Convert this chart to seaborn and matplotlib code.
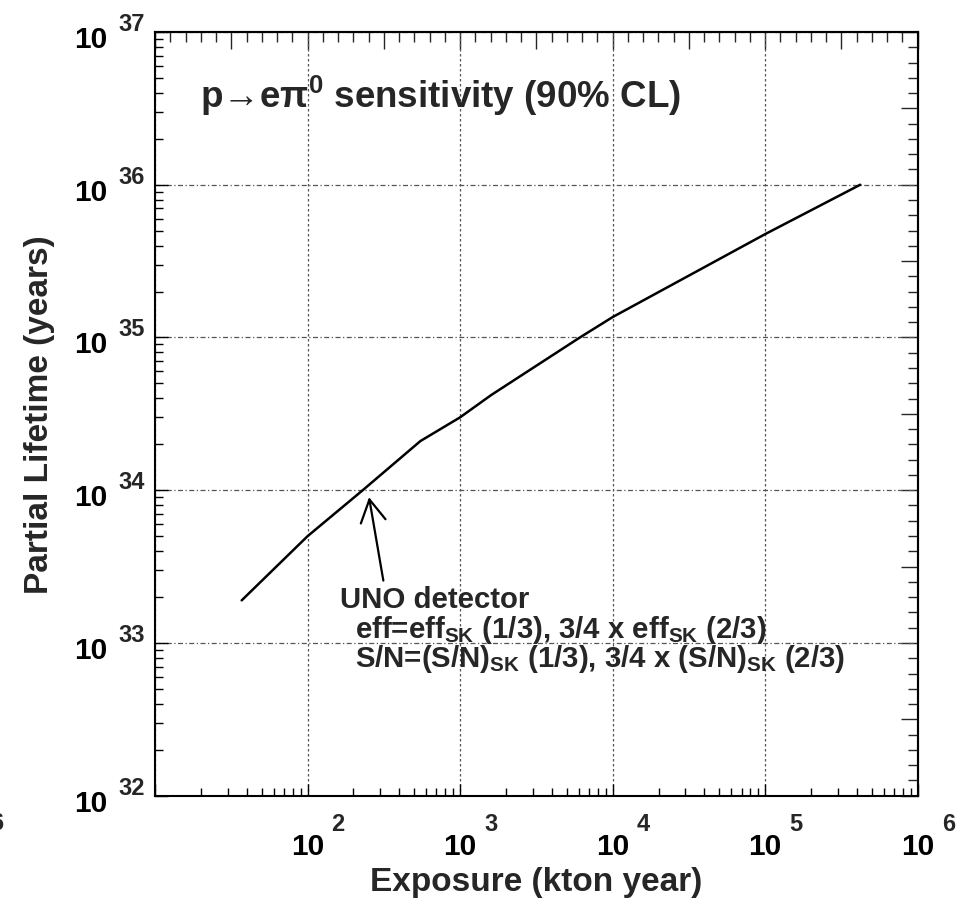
import numpy as np
import pandas as pd
import seaborn as sns
import matplotlib
matplotlib.use("Agg")
import matplotlib.pyplot as plt
from matplotlib.ticker import LogLocator, MultipleLocator, NullFormatter, FixedLocator, FuncFormatter
import matplotlib.transforms as mtransforms

# ---------------- data ----------------
exposure = [37, 100, 230, 550, 1000, 1600, 6100, 10000, 100000, 420000]          # kton year
lifetime = [1.9e33, 5.0e33, 1.0e34, 2.1e34, 3.0e34, 4.2e34, 1.0e35, 1.36e35, 4.75e35, 1.0e36]  # years

x_major_ticks = [1e1, 1e2, 1e3, 1e4, 1e5, 1e6]
x_tick_exponents = ["", "2", "3", "4", "5", "6"]
y_major_ticks = [1e32, 1e33, 1e34, 1e35, 1e36, 1e37]
y_tick_exponents = ["32", "33", "34", "35", "36", "37"]

title_text = r"p→eπ$^{0}$ sensitivity (90% CL)"
note_lines = [
    "UNO detector",
    r"eff=eff$_{\rm SK}$ (1/3), 3/4 x eff$_{\rm SK}$ (2/3)",
    r"S/N=(S/N)$_{\rm SK}$ (1/3), 3/4 x (S/N)$_{\rm SK}$ (2/3)",
]
arrow_tip = (253, 9.0e33)
arrow_tail = (314, 2.56e33)

# ---------------- style ----------------
sns.set_style("ticks")
plt.rcParams["font.family"] = ["Liberation Sans", "DejaVu Sans"]
plt.rcParams["font.weight"] = "bold"
plt.rcParams["mathtext.fontset"] = "custom"
plt.rcParams["mathtext.rm"] = "Liberation Sans:bold"
plt.rcParams["mathtext.bf"] = "Liberation Sans:bold"
plt.rcParams["mathtext.it"] = "Liberation Sans"
plt.rcParams["axes.linewidth"] = 1.5

df = pd.DataFrame({"exposure": exposure, "lifetime": lifetime})

DPI = 100
fig = plt.figure(figsize=(9.71, 9.03), dpi=DPI)
ax = fig.add_axes([155 / 971, 1 - 796.7 / 903, 762.7 / 971, 763.7 / 903])

sns.lineplot(data=df, x="exposure", y="lifetime", ax=ax, color="black",
             linewidth=1.8, sort=False, estimator=None)

ax.set_xscale("log")
ax.set_yscale("log")
ax.set_xlim(1e1, 1e6)
ax.set_ylim(1e32, 1e37)

for s in ax.spines.values():
    s.set_visible(True)
    s.set_color("black")
    s.set_linewidth(1.5)

# grid
ax.xaxis.grid(True, which="major", color="#555555", linestyle=(0, (2, 2)), linewidth=0.9)
ax.yaxis.grid(True, which="major", color="#555555", linestyle=(0, (4, 2, 1, 2)), linewidth=0.9)
ax.set_axisbelow(True)

# ticks (log on bottom / left)
ax.xaxis.set_major_locator(FixedLocator(x_major_ticks))
ax.yaxis.set_major_locator(FixedLocator(y_major_ticks))
ax.xaxis.set_minor_locator(LogLocator(base=10, subs=np.arange(2, 10), numticks=20))
ax.yaxis.set_minor_locator(LogLocator(base=10, subs=np.arange(2, 10), numticks=20))
ax.xaxis.set_minor_formatter(NullFormatter())
ax.yaxis.set_minor_formatter(NullFormatter())

xexp_map = dict(zip(x_major_ticks, x_tick_exponents))
yexp_map = dict(zip(y_major_ticks, y_tick_exponents))

ax.xaxis.set_major_formatter(FuncFormatter(lambda v, p: "10" if xexp_map.get(v, "") else ""))
ax.yaxis.set_major_formatter(FuncFormatter(lambda v, p: "10" if yexp_map.get(v, "") else ""))

ax.tick_params(which="major", direction="in", length=9, width=1, top=False, right=False,
               colors="black")
ax.tick_params(which="minor", direction="in", length=6, width=1, top=False, right=False,
               colors="black")
ax.tick_params(axis="x", which="major", labelsize=21.5, pad=26)
ax.tick_params(axis="y", which="major", labelsize=21.5, pad=34)

def px(dx, dy):
    return mtransforms.ScaledTranslation(dx / DPI, dy / DPI, fig.dpi_scale_trans)

for lab in ax.get_yticklabels():
    lab.set_va("center")
    lab.set_transform(lab.get_transform() + px(0, -7))

# exponents of the tick labels
tx_x = mtransforms.blended_transform_factory(ax.transData, ax.transAxes)
tx_y = mtransforms.blended_transform_factory(ax.transAxes, ax.transData)
for v, e in zip(x_major_ticks, x_tick_exponents):
    if e:
        ax.text(v, 0, e, transform=tx_x + px(24, -16), fontsize=17, fontweight="bold",
                ha="left", va="top", clip_on=False)
for v, e in zip(y_major_ticks, y_tick_exponents):
    if e:
        ax.text(0, v, e, transform=tx_y + px(-37, 20), fontsize=17, fontweight="bold",
                ha="left", va="top", clip_on=False)

# linear-spaced ticks on top / right (as in the original)
secx = ax.secondary_xaxis("top", functions=(np.log10, lambda v: 10 ** v))
secx.xaxis.set_major_locator(MultipleLocator(0.5))
secx.xaxis.set_minor_locator(MultipleLocator(0.1))
secx.xaxis.set_major_formatter(NullFormatter())
secx.xaxis.set_minor_formatter(NullFormatter())
secx.tick_params(which="major", direction="in", length=12, width=1)
secx.tick_params(which="minor", direction="in", length=7, width=1)
secx.spines["top"].set_linewidth(1.5)

secy = ax.secondary_yaxis("right", functions=(np.log10, lambda v: 10 ** v))
secy.yaxis.set_major_locator(MultipleLocator(0.5))
secy.yaxis.set_minor_locator(MultipleLocator(0.1))
secy.yaxis.set_major_formatter(NullFormatter())
secy.yaxis.set_minor_formatter(NullFormatter())
secy.tick_params(which="major", direction="in", length=12, width=1)
secy.tick_params(which="minor", direction="in", length=7, width=1)
secy.spines["right"].set_linewidth(1.5)

# axis titles
ax.set_xlabel("Exposure (kton year)", fontsize=24, fontweight="bold")
ax.set_ylabel("Partial Lifetime (years)", fontsize=24, fontweight="bold")
ax.xaxis.set_label_coords(0.5, -0.092)
ax.yaxis.set_label_coords(-0.131, 0.5)

# title inside plot
ax.text((200 - 155) / 762.7, (796.7 - 108.3) / 763.7, title_text, transform=ax.transAxes,
        fontsize=26.5, fontweight="bold", ha="left", va="baseline")

# annotation text
note_pos = [((340 - 155) / 762.7, (796.7 - 608.3) / 763.7),
            ((355 - 155) / 762.7, (796.7 - 638.3) / 763.7),
            ((355 - 155) / 762.7, (796.7 - 666.7) / 763.7)]
for (tx, ty), line in zip(note_pos, note_lines):
    ax.text(tx, ty, line, transform=ax.transAxes, fontsize=21.2, fontweight="bold",
            ha="left", va="baseline")

ax.annotate("", xy=arrow_tip, xytext=arrow_tail, xycoords="data", textcoords="data",
            arrowprops=dict(arrowstyle="->,head_length=0.8,head_width=0.45",
                            mutation_scale=20, lw=1.6, color="black",
                            shrinkA=0, shrinkB=0))

# clipped exponent from a neighbouring panel at the left edge
fig.text(3 / 971, 1 - 812 / 903, "6", fontsize=17, fontweight="bold", ha="right", va="top")

fig.savefig("out.png", dpi=DPI)
